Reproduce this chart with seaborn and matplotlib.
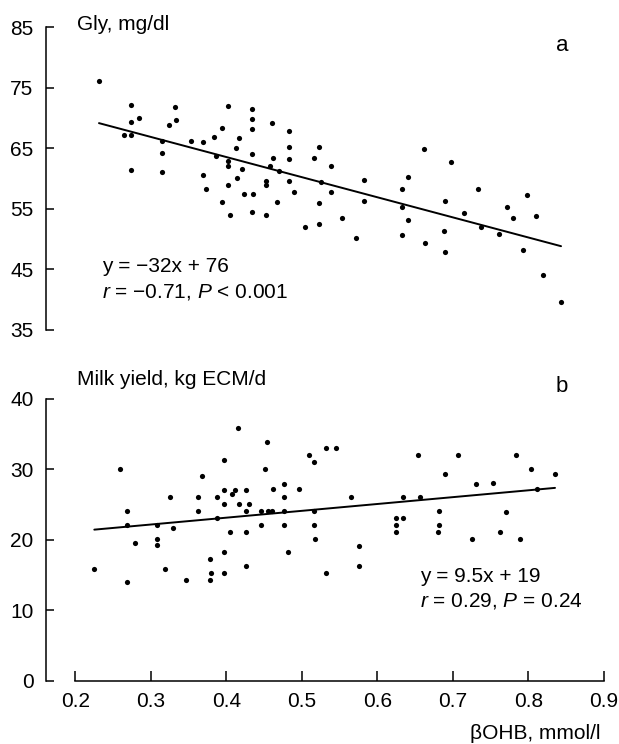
import numpy as np
import pandas as pd
import matplotlib
matplotlib.use("Agg")
import matplotlib.pyplot as plt
import seaborn as sns

# ---------------- data ----------------
# Panel a: blood glycerol (Gly, mg/dl) vs betaOHB (mmol/l)
gly_bohb = [0.2315, 0.274, 0.332, 0.403, 0.284, 0.274, 0.3335, 0.324, 0.394, 0.265,
            0.274, 0.384, 0.417, 0.315, 0.353, 0.369, 0.4125, 0.315, 0.386, 0.403,
            0.403, 0.421, 0.274, 0.315, 0.369, 0.414, 0.3737, 0.403, 0.423, 0.394,
            0.434, 0.434, 0.4607, 0.434, 0.4836, 0.4836, 0.5225, 0.434, 0.462, 0.4836,
            0.516, 0.4576, 0.5392, 0.47, 0.4527, 0.4527, 0.4836, 0.5256, 0.583, 0.6324,
            0.641, 0.4898, 0.5392, 0.4355, 0.583, 0.4669, 0.5225, 0.405, 0.434, 0.4527,
            0.6324, 0.641, 0.5534, 0.504, 0.5225, 0.572, 0.6324,
            0.662, 0.6974, 0.733, 0.7984, 0.6898, 0.772, 0.7146, 0.7799, 0.8107,
            0.7379, 0.761, 0.688, 0.6633, 0.6898, 0.7935, 0.82, 0.8435]
gly_values = [76.2, 72.2, 71.8, 72.0, 70.0, 69.3, 69.6, 68.85, 68.3, 67.15,
              67.15, 66.9, 66.7, 66.2, 66.2, 66.0, 65.0, 64.2, 63.8, 62.9,
              62.1, 61.5, 61.4, 61.1, 60.5, 60.1, 58.2, 59.0, 57.4, 56.1,
              71.55, 69.8, 69.2, 68.2, 67.85, 65.2, 65.2, 64.0, 63.45, 63.2,
              63.45, 62.1, 62.1, 61.3, 59.65, 59.0, 59.6, 59.4, 59.8, 58.2,
              60.3, 57.8, 57.8, 57.4, 56.3, 56.1, 55.9, 54.0, 54.5, 54.0,
              55.35, 53.2, 53.4, 52.05, 52.4, 50.1, 50.7,
              64.8, 62.7, 58.2, 57.2, 56.3, 55.3, 54.35, 53.4, 53.8,
              52.05, 50.8, 51.3, 49.3, 47.8, 48.1, 44.1, 39.65]

# Panel b: milk yield (kg ECM/d) vs betaOHB (mmol/l)
milk_bohb = [0.4156, 0.3971, 0.2593, 0.368, 0.3971, 0.4112, 0.4267, 0.4077, 0.3256, 0.363,
             0.3878, 0.3971, 0.4174, 0.4298, 0.269, 0.363, 0.4267, 0.3878, 0.269, 0.3088,
             0.3291, 0.3088, 0.3088, 0.2796, 0.405, 0.4267, 0.3971, 0.3785, 0.4267, 0.2253,
             0.3185, 0.3803, 0.3971, 0.3472, 0.3785, 0.269,
             0.4544, 0.5322, 0.5458, 0.5101, 0.5167, 0.4514, 0.4761, 0.462, 0.4964, 0.4761,
             0.5657, 0.6342, 0.4465, 0.4558, 0.4607, 0.4761, 0.5163, 0.4465, 0.4761, 0.5163,
             0.6249, 0.6342, 0.6249, 0.6249, 0.518, 0.4823, 0.5755, 0.5755, 0.5322,
             0.6545, 0.7074, 0.7842, 0.8033, 0.8355, 0.6902, 0.7305, 0.7534, 0.6563, 0.8113,
             0.6822, 0.7706, 0.6822, 0.6809, 0.763, 0.726, 0.7891]
milk_values = [35.9, 31.3, 30.1, 29.1, 27.1, 27.1, 27.1, 26.45, 26.1, 26.1,
               26.1, 25.1, 25.1, 25.1, 24.1, 24.1, 24.1, 23.1, 22.1, 22.1,
               21.65, 20.1, 19.3, 19.6, 21.1, 21.1, 18.3, 17.3, 16.3, 15.8,
               15.8, 15.3, 15.3, 14.3, 14.3, 14.0,
               33.9, 33.1, 33.1, 32.1, 31.1, 30.1, 27.95, 27.15, 27.15, 26.1,
               26.1, 26.1, 24.1, 24.1, 24.1, 24.1, 24.1, 22.1, 22.1, 22.1,
               23.1, 23.1, 22.1, 21.1, 20.1, 18.3, 19.1, 16.3, 15.3,
               32.1, 32.1, 32.1, 30.1, 29.4, 29.4, 27.95, 28.1, 26.1, 27.2,
               24.1, 23.9, 22.1, 21.1, 21.1, 20.1, 20.1]

x_ticks = [0.2, 0.3, 0.4, 0.5, 0.6, 0.7, 0.8, 0.9]
gly_ticks = [35, 45, 55, 65, 75, 85]
milk_ticks = [0, 10, 20, 30, 40]

df_a = pd.DataFrame({"bohb": gly_bohb, "gly": gly_values})
df_b = pd.DataFrame({"bohb": milk_bohb, "milk": milk_values})

# ---------------- style ----------------
sns.set_style("white")
plt.rcParams["font.family"] = ["Liberation Sans", "DejaVu Sans"]
plt.rcParams["mathtext.fontset"] = "custom"
plt.rcParams["mathtext.rm"] = "Liberation Sans"
plt.rcParams["mathtext.it"] = "Liberation Sans:italic"
plt.rcParams["axes.linewidth"] = 1.1
plt.rcParams["axes.edgecolor"] = "black"
plt.rcParams["text.color"] = "black"
plt.rcParams["xtick.color"] = "black"
plt.rcParams["ytick.color"] = "black"
plt.rcParams["axes.labelcolor"] = "black"
FS = 15

W, H = 619, 744
fig = plt.figure(figsize=(W / 100, H / 100), dpi=100)
ax1 = fig.add_axes([46 / W, 1 - 329.7 / H, 557.7 / W, 302.4 / H])
ax2 = fig.add_axes([46 / W, 1 - 680.5 / H, 557.7 / W, 281.5 / H])

dot_kws = dict(color="black", s=14, linewidth=0, zorder=3)
line_kws = dict(color="black", linewidth=1.4)

# panel a
sns.scatterplot(data=df_a, x="bohb", y="gly", ax=ax1, **dot_kws)
sns.regplot(data=df_a, x="bohb", y="gly", ax=ax1, scatter=False, ci=None,
            truncate=True, line_kws=line_kws)
# panel b
sns.scatterplot(data=df_b, x="bohb", y="milk", ax=ax2, **dot_kws)
sns.regplot(data=df_b, x="bohb", y="milk", ax=ax2, scatter=False, ci=None,
            truncate=True, line_kws=line_kws)

XMIN = 0.2 - 29.2 / 755
for ax in (ax1, ax2):
    ax.set_xlim(XMIN, 0.9)
    ax.set_xlabel("")
    ax.set_ylabel("")
    ax.spines["top"].set_visible(False)
    ax.spines["right"].set_visible(False)
    ax.tick_params(axis="y", direction="in", length=5.5, width=1.1, pad=9,
                   labelsize=FS, left=True, colors="black")
    ax.tick_params(axis="x", direction="in", length=7.5, width=1.1, pad=8,
                   labelsize=FS, bottom=True, colors="black")

ax1.set_ylim(35, 85)
ax1.set_yticks(gly_ticks)
ax1.set_xticks([])
ax1.spines["bottom"].set_visible(False)

ax2.set_ylim(0, 40)
ax2.set_yticks(milk_ticks)
ax2.set_xticks(x_ticks)
ax2.set_xticklabels([f"{t:.1f}" for t in x_ticks])
ax2.spines["bottom"].set_bounds(0.2, 0.9)

# texts
ax1.text(0.0556, 0.991, "Gly, mg/dl", transform=ax1.transAxes, fontsize=FS,
         ha="left", va="baseline")
ax1.text(0.914, 0.922, "a", transform=ax1.transAxes, fontsize=FS + 1,
         ha="left", va="baseline")
ax1.text(0.0999, 0.19, "y = \u221232x + 76", transform=ax1.transAxes, fontsize=FS,
         ha="left", va="baseline")
ax1.text(0.0999, 0.107, "$r$ = \u22120.71, $P$ < 0.001", transform=ax1.transAxes,
         fontsize=FS, ha="left", va="baseline")

ax2.text(0.0556, 1.0498, "Milk yield, kg ECM/d", transform=ax2.transAxes,
         fontsize=FS, ha="left", va="baseline")
ax2.text(0.914, 1.025, "b", transform=ax2.transAxes, fontsize=FS + 1,
         ha="left", va="baseline")
ax2.text(0.671, 0.349, "y = 9.5x + 19", transform=ax2.transAxes, fontsize=FS,
         ha="left", va="baseline")
ax2.text(0.671, 0.263, "$r$ = 0.29, $P$ = 0.24", transform=ax2.transAxes,
         fontsize=FS, ha="left", va="baseline")

fig.text(600 / W, 1 - 739 / H, "\u03b2OHB, mmol/l", fontsize=FS,
         ha="right", va="baseline")

fig.savefig("out.png", dpi=100)
